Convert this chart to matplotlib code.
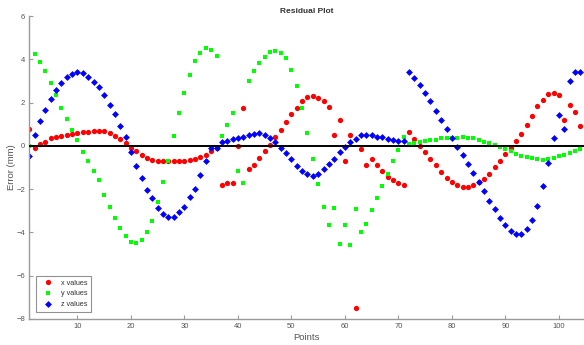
import numpy as np
import matplotlib.pyplot as plt

# residuals, points 1..104
x_vals = [0.77, -0.12, 0.08, 0.2, 0.34, 0.42, 0.46, 0.51, 0.54, 0.59,
          0.62, 0.66, 0.69, 0.69, 0.69, 0.6, 0.46, 0.32, 0.12, -0.08,
          -0.25, -0.42, -0.54, -0.65, -0.69, -0.72, -0.7, -0.72, -0.71, -0.68,
          -0.65, -0.62, -0.52, -0.42, -0.23, -0.1, -1.79, -1.73, -1.71, 0.0,
          1.77, -1.09, -0.88, -0.55, -0.25, 0.03, 0.4, 0.72, 1.08, 1.45,
          1.77, 2.05, 2.25, 2.31, 2.22, 2.06, 1.79, 0.49, 1.19, -0.69,
          0.52, -7.5, -0.15, -0.88, -0.59, -0.88, -1.17, -1.42, -1.6, -1.73,
          -1.8, 0.63, 0.31, 0.0, -0.28, -0.62, -0.89, -1.2, -1.48, -1.68,
          -1.82, -1.91, -1.9, -1.83, -1.65, -1.54, -1.31, -1.0, -0.72, -0.37,
          -0.11, 0.22, 0.54, 0.97, 1.37, 1.82, 2.13, 2.39, 2.43, 2.36,
          1.19, 1.9, 1.56, 0.92]

y_vals = [0.0, 4.25, 3.88, 3.45, 2.9, 2.34, 1.76, 1.26, 0.71, 0.28,
          -0.28, -0.68, -1.17, -1.6, -2.28, -2.84, -3.33, -3.79, -4.17, -4.42,
          -4.51, -4.33, -3.98, -3.48, -2.6, -1.68, -0.68, 0.46, 1.51, 2.45,
          3.28, 3.91, 4.31, 4.53, 4.42, 4.16, 0.46, 0.96, 1.54, -1.16,
          -1.73, 2.99, 3.47, 3.85, 4.11, 4.35, 4.39, 4.3, 4.04, 3.51,
          2.76, 1.76, 0.6, -0.6, -1.77, -2.84, -3.64, -2.87, -4.53, -3.67,
          -4.56, -2.93, -3.96, -3.6, -2.97, -2.39, -1.85, -1.29, -0.71, -0.18,
          0.39, 0.08, 0.14, 0.2, 0.22, 0.26, 0.28, 0.34, 0.37, 0.37,
          0.34, 0.42, 0.37, 0.34, 0.29, 0.2, 0.15, 0.06, -0.07, -0.14,
          -0.23, -0.37, -0.46, -0.51, -0.55, -0.63, -0.65, -0.63, -0.55, -0.49,
          -0.42, -0.32, -0.23, -0.14]

z_vals = [-0.48, 0.52, 1.16, 1.66, 2.16, 2.56, 2.91, 3.16, 3.31, 3.41,
          3.36, 3.2, 2.97, 2.7, 2.33, 1.9, 1.45, 0.92, 0.39, -0.28,
          -0.94, -1.49, -2.05, -2.41, -2.89, -3.15, -3.27, -3.27, -3.07, -2.84,
          -2.38, -2.0, -1.36, -0.72, -0.11, -0.11, 0.2, 0.23, 0.31, 0.35,
          0.43, 0.49, 0.57, 0.59, 0.51, 0.37, 0.18, -0.08, -0.34, -0.62,
          -0.91, -1.17, -1.31, -1.4, -1.28, -1.08, -0.85, -0.59, -0.28, -0.05,
          0.17, 0.32, 0.49, 0.49, 0.51, 0.42, 0.39, 0.31, 0.29, 0.22,
          0.23, 3.39, 3.15, 2.83, 2.43, 2.06, 1.59, 1.19, 0.77, 0.37,
          -0.04, -0.43, -0.86, -1.25, -1.68, -2.1, -2.55, -2.92, -3.32, -3.67,
          -3.93, -4.06, -4.06, -3.86, -3.43, -2.77, -1.87, -0.8, 0.35, 1.42,
          0.77, 3.01, 3.42, 3.42]

points = np.arange(1, len(x_vals) + 1)

plt.rcParams['font.family'] = ['Liberation Sans', 'DejaVu Sans']
grey = '#9a9a9a'
txt = '#555555'

fig = plt.figure(figsize=(5.84, 3.45), dpi=100)
ax = fig.add_axes([0.0502, 0.0754, 0.9498, 0.8782])

ax.plot(points, x_vals, 'o', color='#ff0000', ms=3.8, mew=0, label='x values')
ax.plot(points, y_vals, 's', color='#00ff00', ms=3.1, mew=0, label='y values')
ax.plot(points, z_vals, 'D', color='#0000ff', ms=3.5, mew=0, label='z values')
ax.axhline(0, color='black', lw=1.4, zorder=3)

ax.set_xlim(1, 104.7)
ax.set_ylim(-8, 6)
ax.set_xticks(range(10, 101, 10))
ax.set_yticks(range(-8, 7, 2))

for s in ['top', 'right']:
    ax.spines[s].set_visible(False)
for s in ['left', 'bottom']:
    ax.spines[s].set_color(grey)
    ax.spines[s].set_linewidth(1.0)
ax.tick_params(direction='in', length=3, width=0.8, color=grey,
               labelcolor=txt, labelsize=5.5, pad=3)

ax.set_title('Residual Plot', fontsize=6, fontweight='bold', color='#333333', pad=2)
ax.set_xlabel('Points', fontsize=6.8, color=txt, labelpad=2)
ax.set_ylabel('Error (mm)', fontsize=6.8, color=txt, labelpad=0)

leg = ax.legend(loc='lower left', bbox_to_anchor=(0.012, 0.024), fontsize=5.2,
                frameon=True, fancybox=False, edgecolor='#777777',
                handlelength=2.2, handletextpad=0.8, borderpad=0.5,
                labelspacing=0.5, borderaxespad=0)
leg.get_frame().set_linewidth(0.8)
for t in leg.get_texts():
    t.set_color('#333333')

fig.savefig('out.png', dpi=100)
